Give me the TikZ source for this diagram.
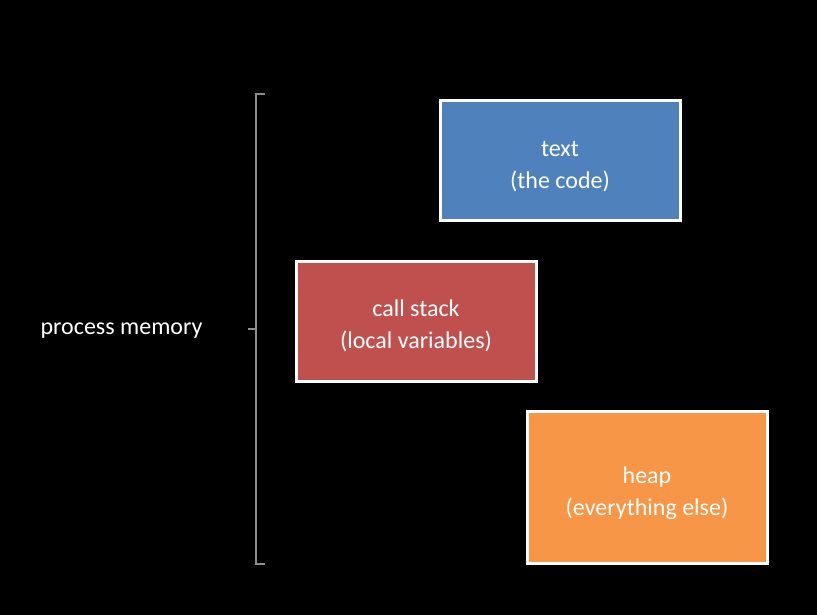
\documentclass[tikz,border=0pt]{standalone}
\usepackage{fontspec}
\setmainfont{Carlito}
\usepackage{xcolor}
\usetikzlibrary{positioning,calc}
\definecolor{textblue}{HTML}{4F81BD}
\definecolor{stackred}{HTML}{C0504D}
\definecolor{heaporange}{HTML}{F79646}
\definecolor{bracegray}{HTML}{8C8C8C}

\begin{document}
\begin{tikzpicture}[x=1pt,y=-1pt,
	membox/.style={draw=white,line width=3pt,minimum width=240pt},
	memlabel/.style={text=white,align=center,font=\fontsize{24}{32}\selectfont}]
	\fill[black] (0,0) rectangle (817,615);
	\useasboundingbox (0,0) rectangle (817,615);
	\node[membox,fill=textblue,minimum height=119pt] (text) at (560,160.5) {};
	\node[memlabel] (textlabel) at ($(text)+(0,6)$) {text\\(the code)};
	\node[membox,fill=stackred,minimum height=120pt] (stack) at (416,321) {};
	\node[memlabel] (stacklabel) at ($(stack)+(0,5)$) {call stack\\(local variables)};
	\node[membox,fill=heaporange,minimum height=152pt] (heap) at (647,487) {};
	\node[memlabel] (heaplabel) at ($(heap)+(0,6)$) {heap\\(everything else)};
	\coordinate (top) at (256,94);
	\coordinate (bottom) at (256,564);
	\draw[bracegray,line width=2pt] ($(top)+(9,0)$) -- (top) -- (bottom) -- ++(9,0);
	\draw[bracegray,line width=2pt] (256,329) -- (248,329) coordinate (tick);
	\node[left=42pt of tick,text=white,font=\fontsize{24}{28}\selectfont,yshift=-2pt] (mem) {process memory};
\end{tikzpicture}
\end{document}
